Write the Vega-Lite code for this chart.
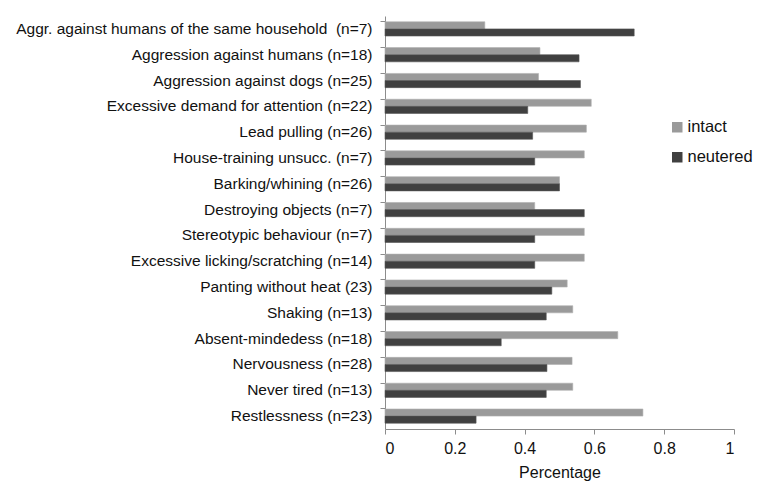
{
  "$schema": "https://vega.github.io/schema/vega-lite/v6.json",
  "width": 349,
  "height": 413,
  "autosize": {"type": "none"},
  "padding": {"left": 385, "top": 16, "right": 31, "bottom": 63},
  "background": "white",
  "config": {
    "view": {"stroke": null},
    "font": "Liberation Sans",
    "axis": {"labelFont": "Liberation Sans", "titleFont": "Liberation Sans", "domainColor": "#8c8c8c", "tickColor": "#8c8c8c", "labelColor": "#111111", "titleColor": "#111111"},
    "legend": {"labelFont": "Liberation Sans"}
  },
  "data": {
    "values": [
      {"behaviour": "Aggr. against humans of the same household\u00a0 (n=7)", "group": "intact", "value": 0.286},
      {"behaviour": "Aggr. against humans of the same household\u00a0 (n=7)", "group": "neutered", "value": 0.714},
      {"behaviour": "Aggression against humans (n=18)", "group": "intact", "value": 0.444},
      {"behaviour": "Aggression against humans (n=18)", "group": "neutered", "value": 0.556},
      {"behaviour": "Aggression against dogs (n=25)", "group": "intact", "value": 0.44},
      {"behaviour": "Aggression against dogs (n=25)", "group": "neutered", "value": 0.56},
      {"behaviour": "Excessive demand for attention (n=22)", "group": "intact", "value": 0.591},
      {"behaviour": "Excessive demand for attention (n=22)", "group": "neutered", "value": 0.409},
      {"behaviour": "Lead pulling (n=26)", "group": "intact", "value": 0.577},
      {"behaviour": "Lead pulling (n=26)", "group": "neutered", "value": 0.423},
      {"behaviour": "House-training unsucc. (n=7)", "group": "intact", "value": 0.571},
      {"behaviour": "House-training unsucc. (n=7)", "group": "neutered", "value": 0.429},
      {"behaviour": "Barking/whining (n=26)", "group": "intact", "value": 0.5},
      {"behaviour": "Barking/whining (n=26)", "group": "neutered", "value": 0.5},
      {"behaviour": "Destroying objects (n=7)", "group": "intact", "value": 0.429},
      {"behaviour": "Destroying objects (n=7)", "group": "neutered", "value": 0.571},
      {"behaviour": "Stereotypic behaviour (n=7)", "group": "intact", "value": 0.571},
      {"behaviour": "Stereotypic behaviour (n=7)", "group": "neutered", "value": 0.429},
      {"behaviour": "Excessive licking/scratching (n=14)", "group": "intact", "value": 0.571},
      {"behaviour": "Excessive licking/scratching (n=14)", "group": "neutered", "value": 0.429},
      {"behaviour": "Panting without heat (23)", "group": "intact", "value": 0.522},
      {"behaviour": "Panting without heat (23)", "group": "neutered", "value": 0.478},
      {"behaviour": "Shaking (n=13)", "group": "intact", "value": 0.538},
      {"behaviour": "Shaking (n=13)", "group": "neutered", "value": 0.462},
      {"behaviour": "Absent-mindedess (n=18)", "group": "intact", "value": 0.667},
      {"behaviour": "Absent-mindedess (n=18)", "group": "neutered", "value": 0.333},
      {"behaviour": "Nervousness (n=28)", "group": "intact", "value": 0.536},
      {"behaviour": "Nervousness (n=28)", "group": "neutered", "value": 0.464},
      {"behaviour": "Never tired (n=13)", "group": "intact", "value": 0.538},
      {"behaviour": "Never tired (n=13)", "group": "neutered", "value": 0.462},
      {"behaviour": "Restlessness (n=23)", "group": "intact", "value": 0.739},
      {"behaviour": "Restlessness (n=23)", "group": "neutered", "value": 0.261}
    ]
  },
  "mark": {"type": "bar", "strokeWidth": 0.6},
  "encoding": {
    "y": {
      "field": "behaviour",
      "type": "nominal",
      "sort": null,
      "scale": {"paddingInner": 0.45, "paddingOuter": 0.225},
      "axis": {
        "title": null,
        "bandPosition": 0,
        "tickSize": 5,
        "labelFontSize": 15.5,
        "labelPadding": 8,
        "labelLimit": 400
      }
    },
    "yOffset": {"field": "group", "type": "nominal", "sort": ["intact", "neutered"]},
    "x": {
      "field": "value",
      "type": "quantitative",
      "scale": {"domain": [0, 1]},
      "axis": {
        "title": "Percentage",
        "values": [0, 0.2, 0.4, 0.6, 0.8, 1],
        "format": "~g",
        "grid": false,
        "tickSize": 5,
        "labelFontSize": 16,
        "labelPadding": 6,
        "titleFontSize": 16,
        "titleFontWeight": "normal",
        "titlePadding": 8
      }
    },
    "color": {
      "field": "group",
      "type": "nominal",
      "scale": {"domain": ["intact", "neutered"], "range": ["#9a9a9a", "#404040"]},
      "legend": {
        "title": null,
        "orient": "none",
        "legendX": 284,
        "legendY": 103,
        "symbolType": "square",
        "symbolSize": 110,
        "symbolStrokeWidth": 0,
        "labelFontSize": 16.5,
        "labelOffset": 2,
        "rowPadding": 13,
        "labelColor": "#111111"
      }
    },
    "stroke": {
      "field": "group",
      "type": "nominal",
      "scale": {"domain": ["intact", "neutered"], "range": ["#b0b0b0", "#555555"]},
      "legend": null
    }
  }
}
